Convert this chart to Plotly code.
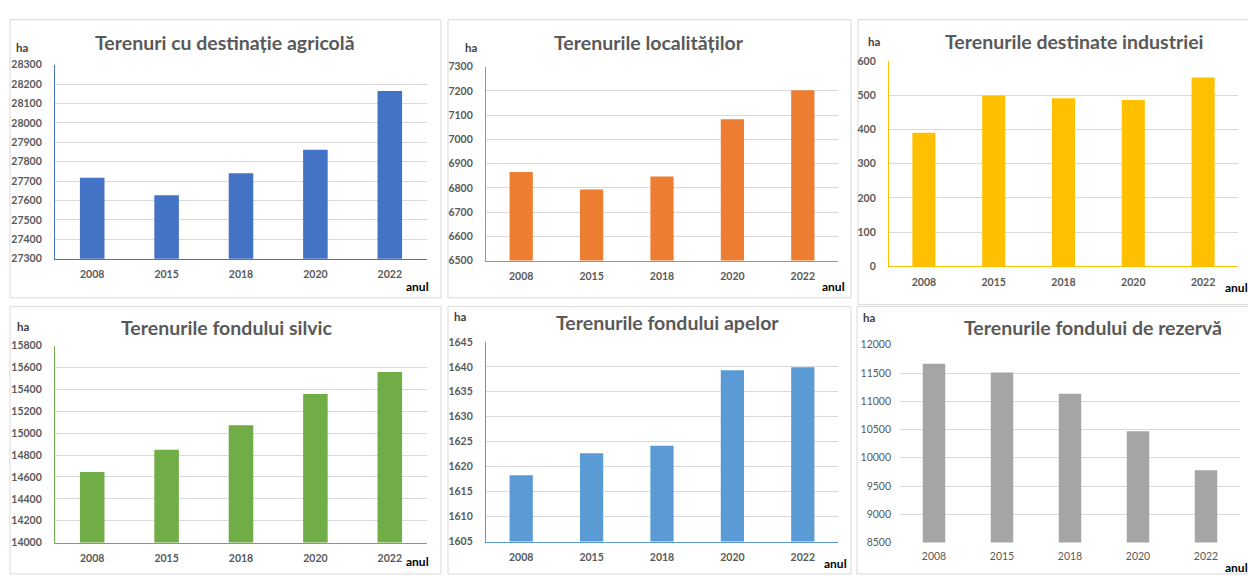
import plotly.graph_objects as go

W, H = 1248, 576

years = ["2008", "2015", "2018", "2020", "2022"]
agricol = [27717, 27627, 27741, 27862, 28165]
localitati = [6866, 6793, 6847, 7083, 7203]
industrie = [390, 499, 491, 486, 551]
silvic = [14645, 14850, 15073, 15360, 15559]
apelor = [1618.3, 1622.7, 1624.2, 1639.3, 1639.9]
rezerva = [11664, 11510, 11135, 10470, 9780]

titles = ["Terenuri cu destinație agricolă", "Terenurile localităților",
          "Terenurile destinate industriei", "Terenurile fondului silvic",
          "Terenurile fondului apelor", "Terenurile fondului de rezervă"]

def fx(px):
    return px / W

def fy(py):
    return 1 - py / H

FONT = "Lato"
GRAY = "#595959"

panels = [
    dict(v=agricol, c="#4472C4", x=(55, 427), y=(60, 258), r=(27300, 28300), d=100, line=True, bold=True,
         t=(225, 37), ha=(22, 42), anul=(417, 286), frame=(10, 441, 14, 298)),
    dict(v=localitati, c="#ED7D31", x=(486, 838), y=(62, 260), r=(6500, 7300), d=100, line=True, bold=True,
         t=(649, 37), ha=(471, 42), anul=(833, 286), frame=(448, 851, 14, 298)),
    dict(v=industrie, c="#FFC000", x=(889, 1238), y=(56, 266), r=(0, 600), d=100, line=True, bold=True,
         t=(1074, 36), ha=(874, 36), anul=(1236, 287), frame=(858, 1252, 14, 305)),
    dict(v=silvic, c="#70AD47", x=(55, 427), y=(347, 548), r=(14000, 15800), d=200, line=True, bold=True,
         t=(227, 328), ha=(23, 327), anul=(417, 567), frame=(10, 441, 307, 580)),
    dict(v=apelor, c="#5B9BD5", x=(486, 838), y=(343, 547), r=(1605, 1645), d=5, line=True, bold=True,
         t=(667, 323), ha=(460, 317), anul=(836, 569), frame=(448, 851, 307, 580)),
    dict(v=rezerva, c="#A5A5A5", x=(900, 1240), y=(346, 548), r=(8500, 12000), d=500, line=False, bold=False,
         t=(1093, 328), ha=(869, 318), anul=(1236, 573), frame=(857, 1252, 307, 580)),
]

fig = go.Figure()
layout = dict(width=W, height=H, margin=dict(l=0, r=0, t=0, b=0),
              paper_bgcolor="white", plot_bgcolor="white", showlegend=False,
              bargap=0.67, font=dict(family=FONT))
annotations = []
shapes = []

for i, p in enumerate(panels):
    n = "" if i == 0 else str(i + 1)
    fig.add_trace(go.Bar(x=years, y=p["v"], marker=dict(color=p["c"], line=dict(width=0)),
                         xaxis="x" + n, yaxis="y" + n, hoverinfo="x+y"))
    wt = "bold" if p["bold"] else "normal"
    tf = dict(family=FONT, size=10.5, color=GRAY, weight=wt)
    layout["xaxis" + n] = dict(domain=[fx(p["x"][0]), fx(p["x"][1])], anchor="y" + n,
                               type="category", showgrid=False, ticks="",
                               showline=p["line"], linecolor=p["c"], linewidth=1.3,
                               tickfont=tf, ticklabelstandoff=6, zeroline=False,
                               fixedrange=True)
    layout["yaxis" + n] = dict(domain=[fy(p["y"][1]), fy(p["y"][0])], anchor="x" + n,
                               range=list(p["r"]), dtick=p["d"], tick0=p["r"][0],
                               tickformat="d",
                               showgrid=True, gridcolor="#D9D9D9", gridwidth=1,
                               showline=p["line"], linecolor=p["c"], linewidth=1.3,
                               ticks="", tickfont=tf, ticklabelstandoff=10 if i != 5 else 8,
                               zeroline=False, fixedrange=True)
    annotations.append(dict(text=titles[i], x=fx(p["t"][0]), y=fy(p["t"][1]), xref="paper", yref="paper",
                            showarrow=False, xanchor="center", yanchor="middle",
                            font=dict(family=FONT, size=19.5, color=GRAY, weight="bold")))
    annotations.append(dict(text="ha", x=fx(p["ha"][0]), y=fy(p["ha"][1]), xref="paper", yref="paper",
                            showarrow=False, xanchor="center", yanchor="middle",
                            font=dict(family=FONT, size=11.5, color="#404040", weight="bold")))
    annotations.append(dict(text="anul", x=fx(p["anul"][0]), y=fy(p["anul"][1]), xref="paper", yref="paper",
                            showarrow=False, xanchor="center", yanchor="middle",
                            font=dict(family=FONT, size=12, color="#000000", weight="bold")))
    x0, x1, y0, y1 = p["frame"]
    shapes.append(dict(type="rect", xref="paper", yref="paper", x0=fx(x0), x1=fx(x1), y0=fy(y1), y1=fy(y0),
                       line=dict(color="#D9D9D9", width=1), fillcolor="rgba(0,0,0,0)", layer="below"))

layout["annotations"] = annotations
layout["shapes"] = shapes
fig.update_layout(**layout)
fig.write_html("out.html")
